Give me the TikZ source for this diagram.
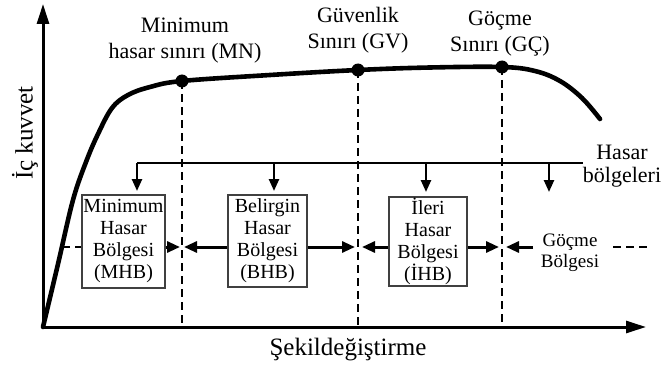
\documentclass[tikz,border=0pt]{standalone}
\usepackage{fontspec}
\setmainfont{Liberation Serif}
\usetikzlibrary{arrows.meta}
\begin{document}
\begin{tikzpicture}[x=1pt,y=-1pt,
 axis/.style={line width=3pt,-{Triangle[length=20pt,width=12pt]}},
 curve/.style={line width=4.6pt,line join=round,line cap=round},
 vdash/.style={line width=2.8pt,dash pattern=on 8pt off 5pt},
 thinline/.style={line width=1.1pt},
 downarr/.style={line width=2.4pt,-{Triangle[length=12pt,width=10pt]}},
 harr/.style={line width=3pt,-{Triangle[length=13pt,width=11pt]}},
 hdash/.style={line width=2pt,dash pattern=on 8pt off 5pt},
 zonebox/.style={draw=black!75,line width=1.1pt,align=center,inner sep=0pt,
   font=\fontsize{20}{22}\selectfont},
 lbl/.style={align=center,font=\fontsize{22}{26}\selectfont},
 dotnode/.style={circle,fill,inner sep=0pt,minimum size=13pt}
]
\useasboundingbox (0,0) rectangle (662,369);
% axes
\coordinate (o) at (43,327);
\coordinate (yt) at (43,4);
\coordinate (xt) at (646,327);
\draw[axis] (o) -- (yt);
\draw[axis] (o) -- (xt);
\node[rotate=90,font=\fontsize{25}{28}\selectfont] (ylab) at (25,133) {İç kuvvet};
\node[font=\fontsize{25}{28}\selectfont] (xlab) at (348,350) {Şekildeğiştirme};
% curve
\draw[curve] plot[smooth,tension=0.6] coordinates {(43,327) (58,264) (73,200) (86,162) (98,134) (112,108) (128,95) (150,87) (182,81) (270,75) (358,70) (430,67.5) (502,67) (535,71) (560,81) (582,98) (600,119)};
% limit points
\node[dotnode] (mn) at (182,81) {};
\node[dotnode] (gv) at (358,70) {};
\node[dotnode] (gc) at (502,67) {};
\draw[vdash] (mn.center) -- (mn.center |- o);
\draw[vdash] (gv.center) -- (gv.center |- o);
\draw[vdash] (gc.center) -- (gc.center |- o);
\node[lbl] (mnl) at (185,41) {Minimum\\hasar sınırı (MN)};
\node[lbl] (gvl) at (358,30) {Güvenlik\\Sınırı (GV)};
\node[lbl] (gcl) at (500,34) {Göçme\\Sınırı (GÇ)};
% zones
\node[zonebox,minimum width=83pt,minimum height=93pt] (mhb) at (123.5,241.5) {Minimum\\Hasar\\Bölgesi\\(MHB)};
\node[zonebox,minimum width=79pt,minimum height=92pt] (bhb) at (267.5,241) {Belirgin\\Hasar\\Bölgesi\\(BHB)};
\node[zonebox,minimum width=78pt,minimum height=89pt] (ihb) at (428,241.5) {İleri\\Hasar\\Bölgesi\\(İHB)};
\node[align=center,font=\fontsize{19}{21}\selectfont,inner sep=0pt] (gb) at (570,253) {Göçme\\Bölgesi};
\node[lbl,font=\fontsize{22}{23}\selectfont] (hb) at (622,166) {Hasar\\bölgeleri};
% top distribution line
\coordinate (t1) at (137,163);
\coordinate (t2) at (274,163);
\coordinate (t3) at (426,163);
\coordinate (t4) at (549,163);
\coordinate (tend) at (583,163);
\draw[thinline] (t1) -- (tend);
\coordinate (b1) at (137,191);
\coordinate (b2) at (274,191);
\coordinate (b3) at (426,192);
\coordinate (b4) at (549,192);
\draw[downarr] (t1) -- (b1);
\draw[downarr] (t2) -- (b2);
\draw[downarr] (t3) -- (b3);
\draw[downarr] (t4) -- (b4);
% horizontal arrows
\coordinate (mnl1) at (180,247);
\coordinate (mnr1) at (184,247);
\coordinate (gvl1) at (355,247);
\coordinate (gvr1) at (362,247);
\coordinate (gcl1) at (499,247);
\coordinate (gcr1) at (506,247);
\coordinate (gbs) at (533,247);
\coordinate (cl) at (62,247);
\coordinate (dr1) at (613,247);
\coordinate (dr2) at (648,247);
\draw[hdash] (cl) -- (mhb.west |- cl);
\draw[harr] (mhb.east |- mnl1) -- (mnl1);
\draw[harr] (bhb.west |- mnr1) -- (mnr1);
\draw[harr] (bhb.east |- gvl1) -- (gvl1);
\draw[harr] (ihb.west |- gvr1) -- (gvr1);
\draw[harr] (ihb.east |- gcl1) -- (gcl1);
\draw[harr] (gbs) -- (gcr1);
\draw[hdash] (dr1) -- (dr2);
\end{tikzpicture}
\end{document}
